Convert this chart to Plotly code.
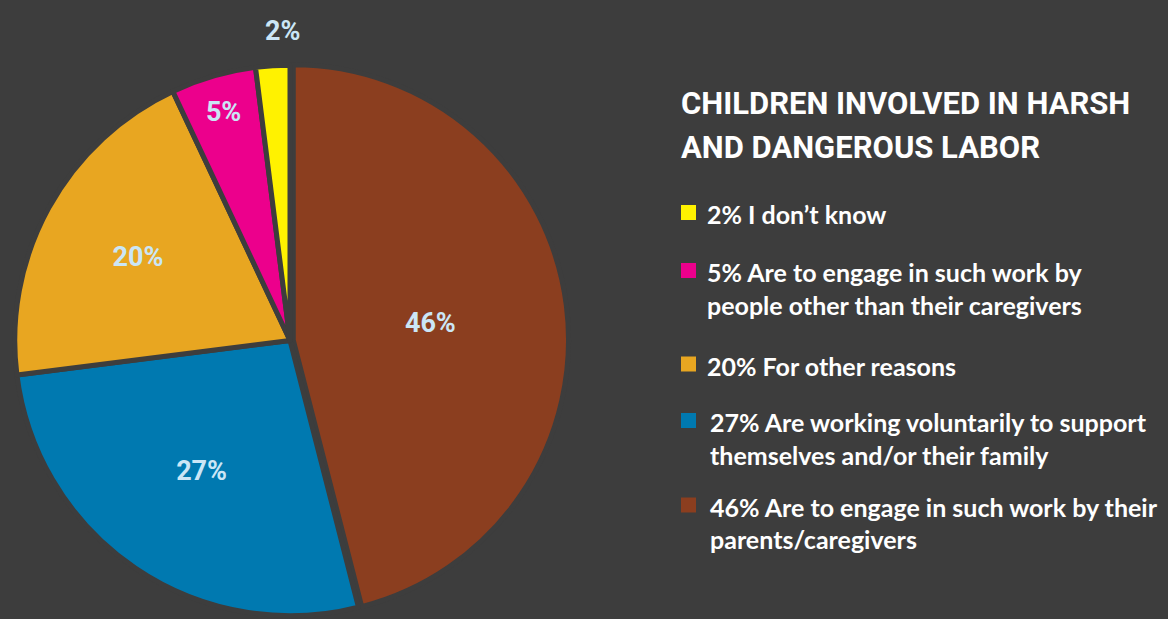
import math
import plotly.graph_objects as go

# ---- data ----
values = [46, 27, 20, 5, 2]
descriptions = [
    ["Are to engage in such work by their", "parents/caregivers"],
    ["Are working voluntarily to support", "themselves and/or their family"],
    ["For other reasons"],
    ["Are to engage in such work by", "people other than their caregivers"],
    ["I don\u2019t know"],
]
colors = ["#8b3e1f", "#0079b0", "#e8a621", "#ec008c", "#fff200"]
title_lines = ["CHILDREN INVOLVED IN HARSH", "AND DANGEROUS LABOR"]
inside_min = 3  # slices smaller than this get their label outside the pie

BG = "#3d3d3d"
LABEL_COLOR = "#cbe6f6"
W, H = 1168, 619

# pie geometry (pixels)
CX, CY_TOP = 290, 340.5
DOM_Y = 0.9
PULL = 0.012
pie_r = (DOM_Y * H / 2 - 3.5) / (1 + PULL)

inside_text = [f"{v}%" if v >= inside_min else "" for v in values]

fig = go.Figure()
fig.add_trace(go.Pie(
    values=values,
    text=inside_text,
    textinfo="text",
    textposition="inside",
    insidetextorientation="horizontal",
    textfont=dict(family="Roboto", size=27, color=LABEL_COLOR, weight="bold"),
    sort=False,
    direction="clockwise",
    rotation=0,
    pull=[PULL, 0, 0, 0, 0],
    marker=dict(colors=colors, line=dict(color=BG, width=5)),
    domain=dict(x=[0, 2 * CX / W], y=[0, DOM_Y]),
    showlegend=False,
    hoverinfo="skip",
))

annotations = []
shapes = []

# outside labels for small slices, placed along the slice's mid angle
total = sum(values)
cum = 0
for v in values:
    mid = (cum + v / 2) / total * 2 * math.pi
    cum += v
    if v < inside_min:
        rr = pie_r * 1.14
        px = CX + rr * math.sin(mid) + 12
        py = CY_TOP - rr * math.cos(mid)
        annotations.append(dict(
            text=f"<b>{v}%</b>", xref="paper", yref="paper",
            x=px / W, y=1 - py / H, xanchor="center", yanchor="middle",
            showarrow=False,
            font=dict(family="Roboto", size=27, color=LABEL_COLOR),
        ))

# Title (two lines)
for k, line in enumerate(title_lines):
    yc = 104 + 43 * k
    annotations.append(dict(
        text=f"<b>{line}</b>", xref="paper", yref="paper",
        x=679 / W, y=1 - yc / H, xanchor="left", yanchor="middle", align="left",
        showarrow=False,
        font=dict(family="Roboto", size=31, color="#ffffff"),
    ))

# Custom legend (top-to-bottom order: reverse of slice order)
row_first_line = [214, 272, 365.5, 422, 506.5]
text_x = [705, 705, 705, 708, 708]
LINE_PITCH = 32.5
order = list(range(len(values)))[::-1]
for row, i in enumerate(order):
    yc = row_first_line[row]
    shapes.append(dict(
        type="rect", xref="paper", yref="paper",
        x0=681 / W, x1=696 / W, y0=1 - (yc - 9) / H, y1=1 - (yc + 6) / H,
        fillcolor=colors[i], line=dict(width=0),
    ))
    for k, line in enumerate(descriptions[i]):
        txt = f"{values[i]}% {line}" if k == 0 else line
        annotations.append(dict(
            text=f"<b>{txt}</b>", xref="paper", yref="paper",
            x=text_x[row] / W, y=1 - (yc + LINE_PITCH * k) / H,
            xanchor="left", yanchor="middle", align="left", showarrow=False,
            font=dict(family="Lato", size=25, color="#ffffff"),
        ))

fig.update_layout(
    width=W, height=H,
    margin=dict(l=0, r=0, t=0, b=0),
    paper_bgcolor=BG, plot_bgcolor=BG,
    annotations=annotations, shapes=shapes,
)

fig.write_html("out.html")
